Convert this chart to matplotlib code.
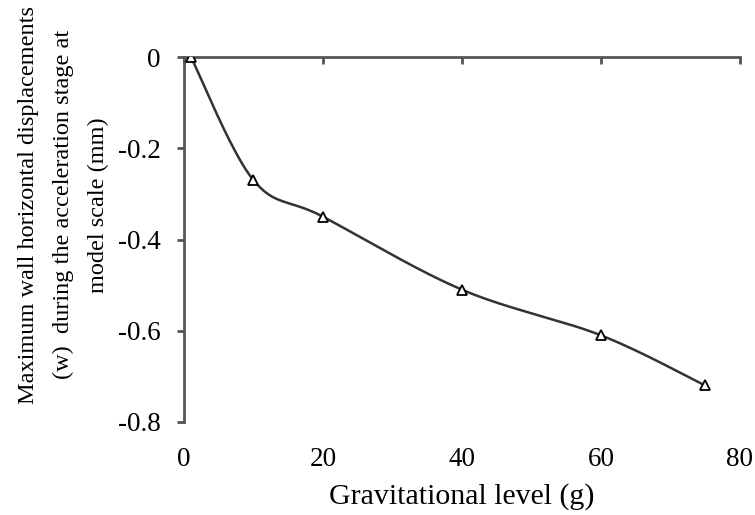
import numpy as np
import matplotlib.pyplot as plt

plt.rcParams['font.family'] = ['Liberation Serif', 'DejaVu Serif']

g_level = [1, 10, 20, 40, 60, 75]
wall_disp = [0.0, -0.27, -0.35, -0.51, -0.61, -0.72]


def smooth(x, y, n=40):
    # cubic Bezier segments through the points, spreadsheet-style smoothing
    x = np.asarray(x, float)
    y = np.asarray(y, float)
    xs, ys = [], []
    for i in range(len(x) - 1):
        x0, y0 = (x[i - 1], y[i - 1]) if i > 0 else (x[i], y[i])
        x3, y3 = (x[i + 2], y[i + 2]) if i + 2 < len(x) else (x[i + 1], y[i + 1])
        p1 = (x[i] + (x[i + 1] - x0) / 6, y[i] + (y[i + 1] - y0) / 6)
        p2 = (x[i + 1] - (x3 - x[i]) / 6, y[i + 1] - (y3 - y[i]) / 6)
        t = np.linspace(0, 1, n)
        a, b, c, d = (1 - t) ** 3, 3 * t * (1 - t) ** 2, 3 * t ** 2 * (1 - t), t ** 3
        xs.append(a * x[i] + b * p1[0] + c * p2[0] + d * x[i + 1])
        ys.append(a * y[i] + b * p1[1] + c * p2[1] + d * y[i + 1])
    return np.concatenate(xs), np.concatenate(ys)


fig = plt.figure(figsize=(7.55, 5.15), dpi=100)
ax = fig.add_axes([0.2437, 0.1806, 0.7363, 0.7087])

sx, sy = smooth(g_level, wall_disp)
ax.plot(sx, sy, color='#333333', lw=1.8, zorder=2)
ax.plot(g_level, wall_disp, ls='none', marker='^', ms=7, mfc='white',
        mec='black', mew=1.3, zorder=3)

ax.set_xlim(0, 80)
ax.set_ylim(-0.8, 0)
ax.set_xticks([0, 20, 40, 60, 80])
ax.set_yticks([0, -0.2, -0.4, -0.6, -0.8])
ax.set_yticklabels(['0', '-0.2', '-0.4', '-0.6', '-0.8'])

for side in ['bottom', 'right']:
    ax.spines[side].set_visible(False)
for side in ['top', 'left']:
    ax.spines[side].set_color('#555555')
    ax.spines[side].set_linewidth(2)

ax.tick_params(axis='x', bottom=False, top=True, labelbottom=True, labeltop=False,
               direction='in', length=5, width=2, color='#555555',
               labelsize=19.5, pad=18)
ax.tick_params(axis='y', direction='out', length=5, width=2, color='#555555',
               labelsize=19.5, pad=12)

ax.set_xlabel('Gravitational level (g)', fontsize=21.5, labelpad=8)
ax.set_ylabel('Maximum wall horizontal displacements\n(w)  during the acceleration stage at\nmodel scale (mm)',
              fontsize=17.5, linespacing=1.85, labelpad=6, y=0.595)

fig.savefig('out.png', dpi=100)
